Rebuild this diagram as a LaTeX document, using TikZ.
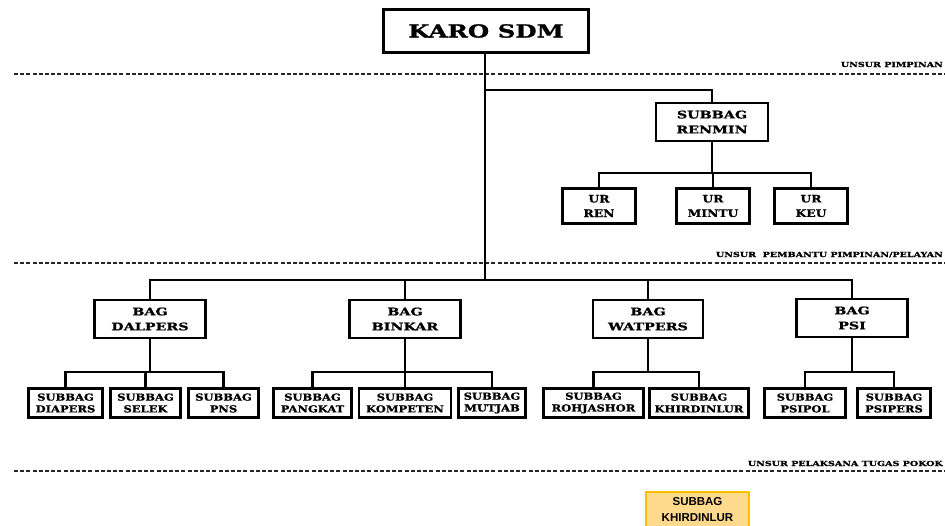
\documentclass[tikz,border=0pt]{standalone}
\usepackage{fontspec}
\newfontfamily\bkA{DejaVuSerif-Bold.ttf}[FakeStretch=1.36, FakeBold=1.2]
\newfontfamily\bkB{DejaVuSerif-Bold.ttf}[FakeStretch=1.36, FakeBold=1.2]
\newfontfamily\bkC{DejaVuSerif-Bold.ttf}[FakeStretch=1.2, FakeBold=1.2]
\newfontfamily\arl{Liberation Sans Bold}
\definecolor{orfill}{HTML}{FFD98C}
\definecolor{orline}{HTML}{FFC000}
\tikzset{
  bx/.style={draw, line width=2.6pt, inner sep=0pt, align=center},
  big/.style={bx, font=\bkA\fontsize{18}{22}\selectfont},
  mid/.style={bx, font=\bkB\fontsize{10.5}{15}\selectfont},
  urb/.style={bx, font=\bkC\fontsize{10.3}{14.5}\selectfont},
  sml/.style={bx, font=\bkC\fontsize{9.6}{11.8}\selectfont},
  conn/.style={line width=2.4pt},
  sep/.style={line width=1.4pt, dash pattern=on 4pt off 2.2pt, black!85},
  lbl/.style={inner sep=0pt, anchor=base east, font=\bkB\fontsize{7}{8}\selectfont},
  orb/.style={draw=orline, fill=orfill, line width=2pt, inner sep=0pt, align=center,
    font=\arl\fontsize{11.5}{16}\selectfont}
}
\begin{document}
\begin{tikzpicture}[x=1pt,y=-1pt]
\useasboundingbox (0,0) rectangle (945,525);
\clip (0,0) rectangle (945,525);
% separators
\coordinate (s1a) at (14,74); \coordinate (s1b) at (945,74);
\coordinate (s2a) at (14,263); \coordinate (s2b) at (945,263);
\coordinate (s3a) at (14,471); \coordinate (s3b) at (945,471);
\draw[sep] (s1a) -- (s1b);
\draw[sep] (s2a) -- (s2b);
\draw[sep] (s3a) -- (s3b);
\node[lbl] (l1) at (943,67) {UNSUR PIMPINAN};
\node[lbl] (l2) at (943,257) {UNSUR\ \ PEMBANTU PIMPINAN/PELAYAN};
\node[lbl] (l3) at (943,466) {UNSUR PELAKSANA TUGAS POKOK};
% nodes
\node[big, minimum width=205pt, minimum height=43pt] (karo) at (486,31) {KARO SDM};
\node[mid, minimum width=112pt, minimum height=38pt] (renmin) at (712,122) {SUBBAG\\RENMIN};
\node[urb, minimum width=73pt, minimum height=35pt] (ren) at (599,206) {UR\\REN};
\node[urb, minimum width=73pt, minimum height=35pt] (mintu) at (713,206) {UR\\MINTU};
\node[urb, minimum width=73pt, minimum height=35pt] (keu) at (811,206) {UR\\KEU};
\node[mid, minimum width=111pt, minimum height=38pt] (dalpers) at (150,319) {BAG\\DALPERS};
\node[mid, minimum width=111pt, minimum height=38pt] (binkar) at (405,319) {BAG\\BINKAR};
\node[mid, minimum width=110pt, minimum height=38pt] (watpers) at (648,319) {BAG\\WATPERS};
\node[mid, minimum width=111pt, minimum height=38pt] (psi) at (852,318) {BAG\\PSI};
\node[sml, minimum width=74pt, minimum height=29pt] (diapers) at (65.5,403) {SUBBAG\\DIAPERS};
\node[sml, minimum width=70pt, minimum height=29pt] (selek) at (145.5,403) {SUBBAG\\SELEK};
\node[sml, minimum width=70pt, minimum height=29pt] (pns) at (223.5,403) {SUBBAG\\PNS};
\node[sml, minimum width=78pt, minimum height=29pt] (pangkat) at (312.5,403) {SUBBAG\\PANGKAT};
\node[sml, minimum width=92pt, minimum height=29pt] (kompeten) at (405,403) {SUBBAG\\KOMPETEN};
\node[sml, minimum width=67pt, minimum height=29pt] (mutjab) at (492,403) {SUBBAG\\MUTJAB};
\node[sml, minimum width=100pt, minimum height=29pt] (rohjashor) at (593.5,403) {SUBBAG\\ROHJASHOR};
\node[sml, minimum width=99pt, minimum height=29pt] (khirdinlur) at (699,403) {SUBBAG\\KHIRDINLUR};
\node[sml, minimum width=81pt, minimum height=29pt] (psipol) at (805,403) {SUBBAG\\PSIPOL};
\node[sml, minimum width=73pt, minimum height=29pt] (psipers) at (894,403) {SUBBAG\\PSIPERS};
\node[orb, minimum width=103pt, minimum height=36pt] (extra) at (697.5,510) {SUBBAG\\KHIRDINLUR};
% connectors
\coordinate (busB) at (485,280);
\draw[conn] (karo.south -| busB) -- (busB);
\draw[conn] (renmin.north) |- (485,90);
\draw[conn] (dalpers.north) |- (psi.north |- busB) -- (psi.north);
\draw[conn] (binkar.north) -- (binkar.north |- busB);
\draw[conn] (watpers.north) -- (watpers.north |- busB);
% renmin children
\draw[conn] (renmin.south) -- (renmin.south |- 0,173);
\draw[conn] (mintu.north) -- (mintu.north |- 0,173);
\draw[conn] (ren.north) |- (keu.north |- 0,173) -- (keu.north);
% dalpers children
\draw[conn] (dalpers.south) -- (dalpers.south |- 0,372);
\draw[conn] (diapers.north) |- (pns.north |- 0,372) -- (pns.north);
\draw[conn] (selek.north) -- (selek.north |- 0,372);
% binkar children
\draw[conn] (binkar.south) -- (kompeten.north);
\draw[conn] (pangkat.north) |- (mutjab.north |- 0,372) -- (mutjab.north);
% watpers children
\draw[conn] (watpers.south) -- (watpers.south |- 0,372);
\draw[conn] (rohjashor.north) |- (khirdinlur.north |- 0,372) -- (khirdinlur.north);
% psi children
\draw[conn] (psi.south) -- (psi.south |- 0,372);
\draw[conn] (psipol.north) |- (psipers.north |- 0,372) -- (psipers.north);
\end{tikzpicture}
\end{document}
